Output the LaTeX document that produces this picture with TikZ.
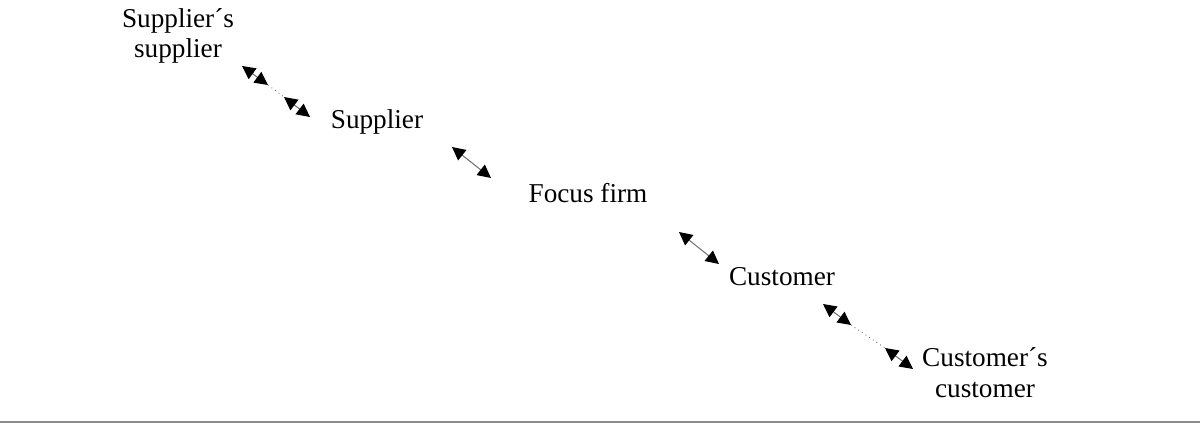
\documentclass[tikz,border=0pt]{standalone}
\usepackage{fontspec}
\setmainfont{Liberation Serif}
\usetikzlibrary{arrows.meta,positioning}

\begin{document}
\begin{tikzpicture}[
  x=0.02cm, y=-0.02cm,
  actor/.style={align=center, inner sep=1pt, font=\fontsize{15.5}{17.5}\selectfont},
  link/.style={{Triangle[length=7.5pt,width=7.5pt,color=black]}-{Triangle[length=7.5pt,width=7.5pt,color=black]}, black!55, line width=0.6pt},
  gap/.style={dotted, black!55, line width=0.5pt}
]
  \useasboundingbox (0,0) rectangle (1200,438);

  % actors along the chain
  \node[actor] (ss) at (178,36) {Supplier´s\\supplier};
  \node[actor] (sup) at (377,122) {Supplier};
  \node[actor] (ff) at (588,193) {Focus firm};
  \node[actor] (cus) at (782,277) {Customer};
  \node[actor] (cc) at (985,373) {Customer´s\\customer};

  % arrow end points
  \coordinate (l1a) at (242,66);
  \coordinate (l1b) at (268,85);
  \coordinate (l1c) at (284,97);
  \coordinate (l1d) at (310,117);
  \coordinate (l2a) at (452,147);
  \coordinate (l2b) at (491,178);
  \coordinate (l3a) at (679,232);
  \coordinate (l3b) at (719,264);
  \coordinate (l4a) at (823,304);
  \coordinate (l4b) at (851,325);
  \coordinate (l4c) at (885,348);
  \coordinate (l4d) at (913,369);

  \draw[link] (l1a) -- (l1b);
  \draw[gap] (l1b) -- (l1c);
  \draw[link] (l1c) -- (l1d);
  \draw[link] (l2a) -- (l2b);
  \draw[link] (l3a) -- (l3b);
  \draw[link] (l4a) -- (l4b);
  \draw[gap] (l4b) -- (l4c);
  \draw[link] (l4c) -- (l4d);

  % rule at the bottom
  \coordinate (rl) at (0,422);
  \coordinate (rr) at (1200,422);
  \draw[black!45, line width=1pt] (rl) -- (rr);
\end{tikzpicture}
\end{document}
